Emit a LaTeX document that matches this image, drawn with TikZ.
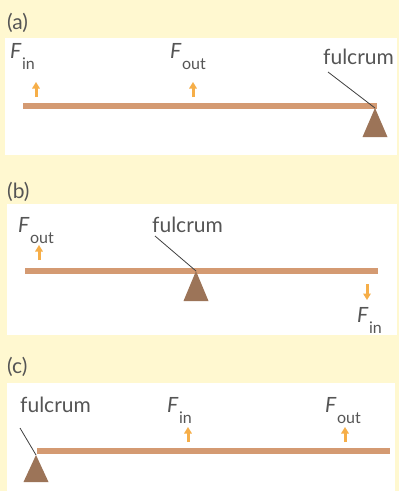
\documentclass[tikz,border=0pt]{standalone}
\usepackage{fontspec}
\setmainfont{Lato}
\usetikzlibrary{arrows.meta}
\definecolor{LevPaper}{HTML}{FFF8D0}
\definecolor{LevBeam}{HTML}{D49A72}
\definecolor{LevPivot}{HTML}{9C7458}
\definecolor{LevForce}{HTML}{F6AE48}
\definecolor{LevText}{HTML}{555555}
\newcommand{\frc}[1]{\textit{F}\kern0.5pt\raisebox{-11pt}{\fontsize{16}{18}\selectfont #1}}
\tikzset{
   lbl/.style={anchor=base west, inner sep=0pt, text=LevText, font=\fontsize{21}{25}\selectfont},
   beam/.style={LevBeam, line width=6pt},
   pivot/.style={fill=LevPivot},
   push/.style={-{Triangle[width=7.5pt,length=6.5pt]}, LevForce, line width=3pt},
   leader/.style={black!75, line width=0.8pt},
   panel/.style={fill=white}
}
\begin{document}
\begin{tikzpicture}[x=1pt, y=-1pt]
   % Paper and panels
   \fill[LevPaper] (0,0) rectangle (399,491);
   \useasboundingbox (0,0) rectangle (399,491);
   \fill[panel] (5,38) rectangle (397,155);
   \fill[panel] (7,204) rectangle (397,335);
   \fill[panel] (7,383) rectangle (395,491);

   % (a): fulcrum at the right end
   \node[lbl] (tagA) at (7,29) {(a)};
   \node[lbl] (inA) at (10,58) {\frc{in}};
   \node[lbl] (outA) at (170,58) {\frc{out}};
   \node[lbl] (fulA) at (323,64) {fulcrum};
   \coordinate (begA) at (23,106);
   \coordinate (endA) at (377,106);
   \coordinate (topA) at (375,108);
   \draw[beam] (begA) -- (endA);
   \fill[pivot] (topA) -- ++(-12.5,29) -- ++(25,0) -- cycle;
   \draw[leader] (328,72) -- (topA);
   \draw[push] (36,97) -- (36,82);
   \draw[push] (193,97) -- (193,82);

   % (b): fulcrum in the middle
   \node[lbl] (tagB) at (7,198) {(b)};
   \node[lbl] (outB) at (18,232) {\frc{out}};
   \node[lbl] (fulB) at (152,232) {fulcrum};
   \node[lbl] (inB) at (357,322) {\frc{in}};
   \coordinate (begB) at (25,271);
   \coordinate (endB) at (378,271);
   \coordinate (topB) at (196,271);
   \draw[beam] (begB) -- (endB);
   \fill[pivot] (topB) -- ++(-12.5,30) -- ++(25,0) -- cycle;
   \draw[leader] (155,236) -- (topB);
   \draw[push] (39,260) -- (39,245);
   \draw[push] (367,284) -- (367,300);

   % (c): fulcrum at the left end
   \node[lbl] (tagC) at (7,373) {(c)};
   \node[lbl] (fulC) at (20,412) {fulcrum};
   \node[lbl] (inC) at (167,412) {\frc{in}};
   \node[lbl] (outC) at (325,412) {\frc{out}};
   \coordinate (begC) at (37,451);
   \coordinate (endC) at (390,451);
   \coordinate (topC) at (36,455);
   \draw[beam] (begC) -- (endC);
   \fill[pivot] (topC) -- ++(-12.5,27) -- ++(25,0) -- cycle;
   \draw[leader] (20,428) -- (topC);
   \draw[push] (188,442) -- (188,427);
   \draw[push] (345,442) -- (345,427);
\end{tikzpicture}
\end{document}
